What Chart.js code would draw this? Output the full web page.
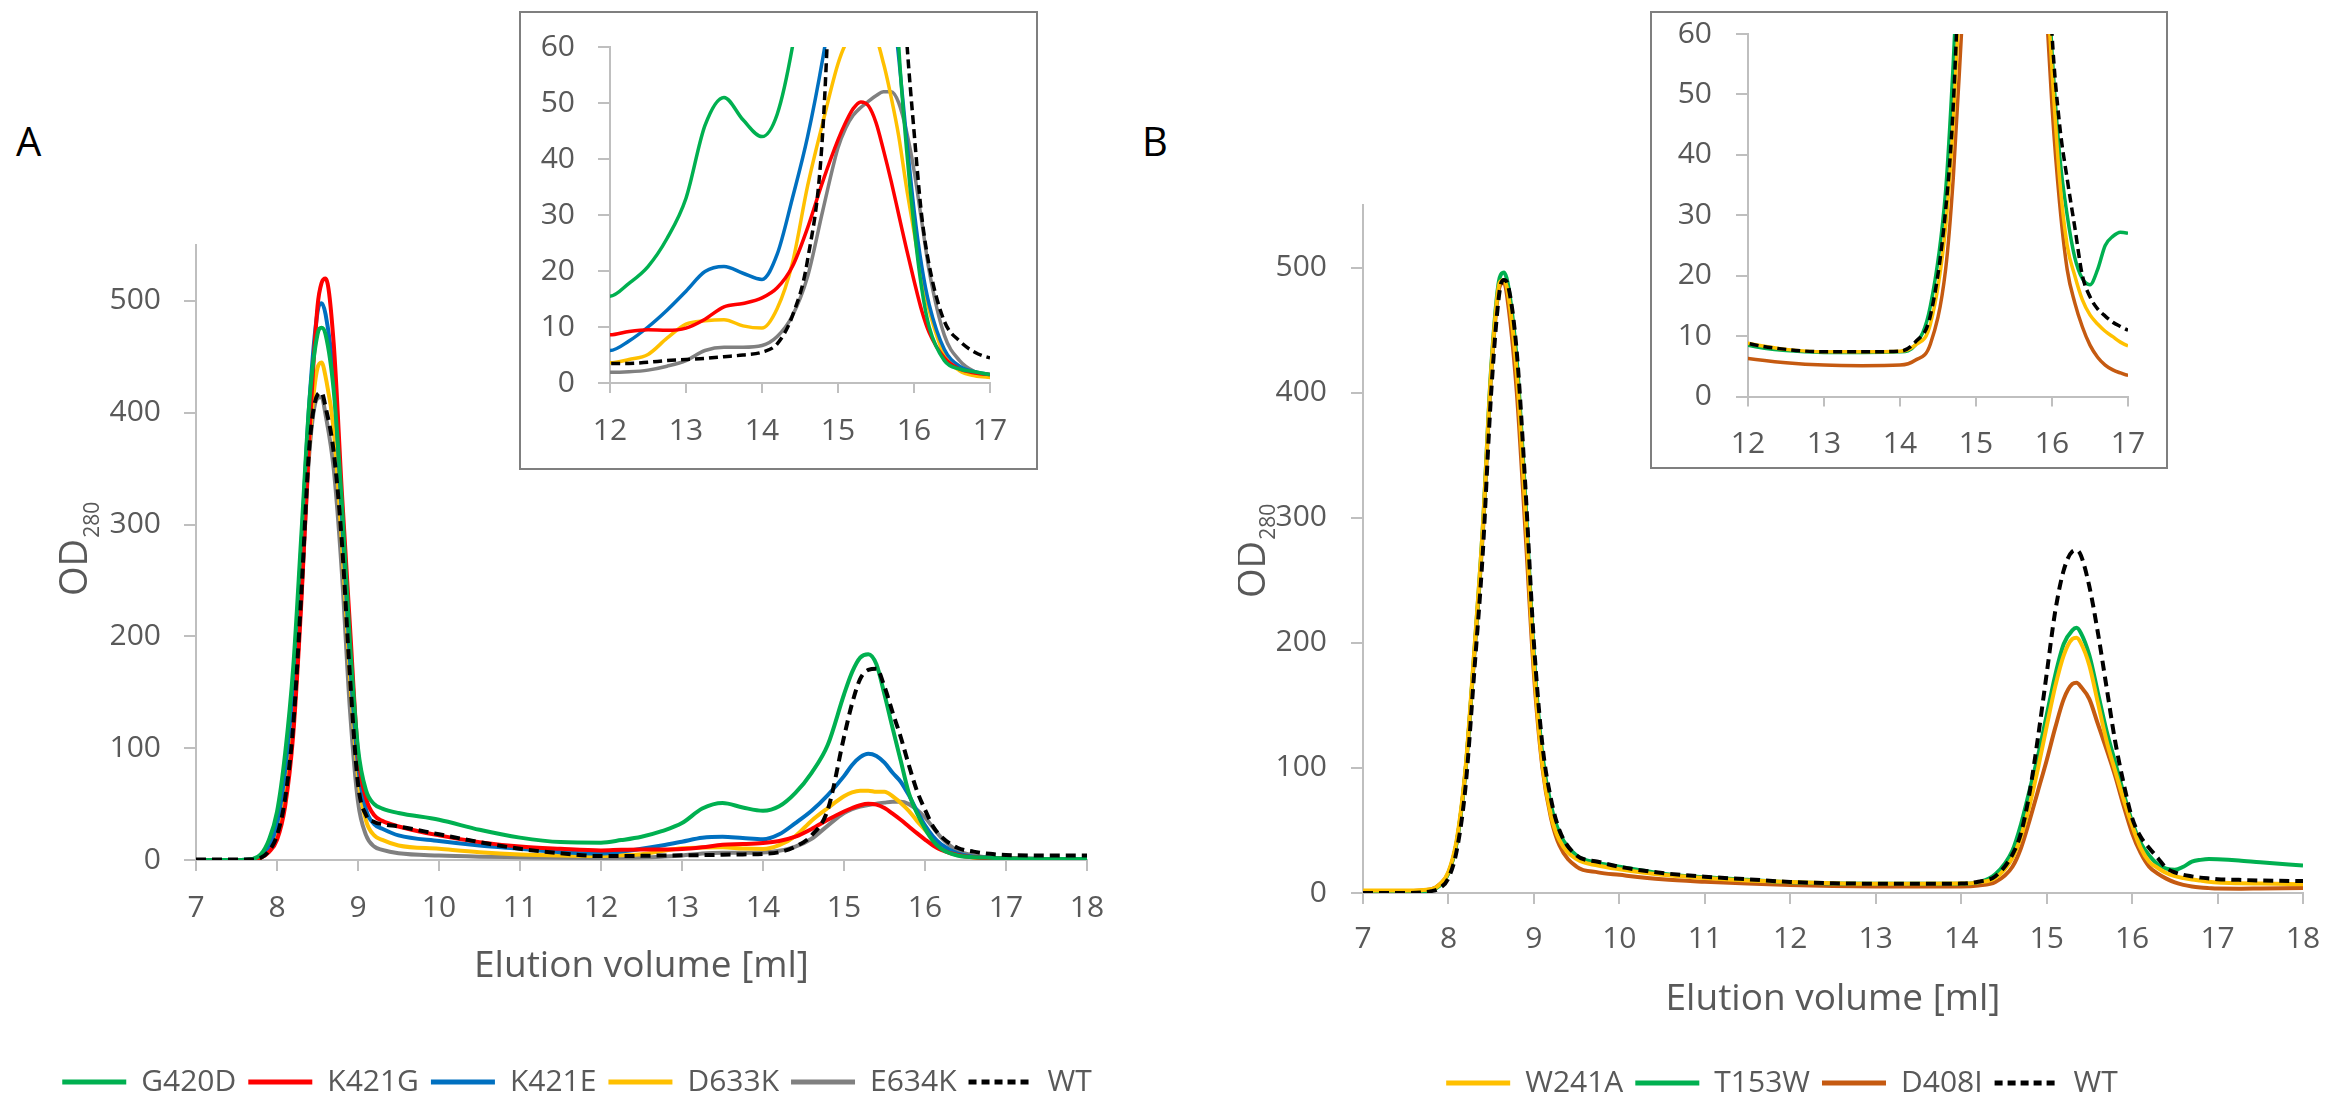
<!DOCTYPE html>
<html>
<head>
<meta charset="utf-8">
<script src="https://cdn.jsdelivr.net/npm/chart.js@4.4.1/dist/chart.umd.min.js"></script>
<style>
  html, body { margin:0; padding:0; background:#fff; width:2326px; height:1100px; overflow:hidden; }
  canvas { position:absolute; }
  .inset { position:absolute; background:#fff; border:2px solid #7f7f7f; box-sizing:border-box; }
  .tag { position:absolute; font:40px "Open Sans"; line-height:40px; color:#000; }
</style>
</head>
<body>
<div class="tag" style="left:16px;top:121px">A</div>
<div class="tag" style="left:1142px;top:121px">B</div>

<canvas id="mainA" width="1154" height="1110" style="left:0;top:0"></canvas>
<canvas id="mainB" width="1088" height="1110" style="left:1238px;top:0"></canvas>

<div class="inset" style="left:519px;top:11px;width:519px;height:459px"></div>
<canvas id="insetA" width="519" height="459" style="left:519px;top:11px"></canvas>
<div class="inset" style="left:1650px;top:11px;width:518px;height:458px"></div>
<canvas id="insetB" width="518" height="458" style="left:1650px;top:11px"></canvas>

<script>
// ---- panel A data (elution volume in ml, OD280) ----
const volA = [7, 7.5, 7.7, 7.8, 7.9, 8.0, 8.1, 8.2, 8.3, 8.4, 8.5, 8.55, 8.6, 8.7, 8.8, 8.9, 9.0, 9.1, 9.2, 9.3,
  9.5, 10, 10.5, 11, 11.5, 12, 12.25, 12.5, 12.75, 13, 13.25, 13.5, 13.75, 14, 14.2, 14.4, 14.6, 14.8, 15, 15.1,
  15.2, 15.3, 15.4, 15.5, 15.6, 15.7, 15.8, 15.9, 16, 16.1, 16.2, 16.4, 16.6, 16.8, 17, 17.5, 18];
const g420d = [0,0,1,5,18,43,95,172,290,410, 470,476,470,420,320,195,100,62,50,46,
  42,36,27,20,16,15.5,17.8,20.8,25.8,33, 46,51,47,44,48,60,78,103,148,168,
  181,184,175,148,118,89,60,42,28,17, 10,4,2.5,2,1.5,1,1];
const k421g = [0,0,0.5,2,7,18,48,112,230,380, 495,516,520,462,330,210,95,55,40,35,
  30,22,16,12,10,8.6,9.2,9.5,9.4,9.8, 11.4,13.6,14.2,15.2,17,20.8,27.7,36,43.4,46.5,
  49,50.2,49.5,46.5,41.5,36,30,24,18.3,13, 9,4.5,2.5,1.8,1.5,1,1];
const k421e = [0,0,1,3,12,32,80,158,280,410, 490,498,488,430,310,180,85,45,32,28,
  22,17,13,10,7,5.8,7.5,10,13,16.4, 19.9,20.8,19.6,18.5,23,33,44,58,75,85,
  92,95,93,87,78,70,58,44,31,21, 14,6,3,2,1.5,1,1];
const d633k = [0,0,0.5,2,9,25,65,140,255,375, 440,445,432,385,285,165,75,35,22,18,
  13,10,7,5,4,3.6,4.2,5.1,8,10.5, 11.1,11.3,10.2,9.8,13.3,21.4,35.2,46.5,57,60.5,
  62,62,61,61,57,51,44,35,27,19, 13,5,2.2,1.3,1,0.5,0.5];
const e634k = [0,0,0.5,2,8,22,55,120,236,365, 413,414,398,350,258,135,52,22,12,9,
  6,4,3,2.5,2,1.9,2,2.3,3,4, 5.8,6.4,6.4,6.7,8.3,12,19,30.8,42,45.5,
  47.8,49.2,50.3,51.3,52,52,50,45,38,29, 20,8.5,4,2,1,0.5,0.5];
const wtA = [0.5,0.5,0.5,2,8,22,55,120,238,370, 416,418,405,365,285,165,68,40,34,32,
  30,23,16,10,6,3.5,3.5,3.7,4,4.2, 4.4,4.7,5,5.5,7,12,22,45,110,140,
  162,170,171,155,132,110,85,62,45,30, 21,11,7.5,5.5,4.5,4,4];

// ---- panel B data ----
const volB = [7, 7.5, 7.8, 7.9, 8.0, 8.1, 8.2, 8.3, 8.4, 8.5, 8.6, 8.65, 8.7, 8.8, 8.9, 9.0, 9.1, 9.2, 9.3, 9.5,
  9.75, 10, 10.5, 11, 11.5, 12, 12.5, 13, 13.5, 14, 14.2, 14.4, 14.6, 14.7, 14.8, 14.9, 15.0, 15.1, 15.2, 15.3,
  15.35, 15.4, 15.5, 15.6, 15.7, 15.8, 15.9, 16.0, 16.1, 16.2, 16.3, 16.4, 16.5, 16.6, 16.7, 16.8, 16.9, 17, 17.25, 17.5, 18];
const w241a = [2,2,3,7,17,44,100,192,290,418, 488,490,478,415,305,182,102,62,42,27,
  22,19,14.5,12,10,8.8,7.8,7.4,7.4,7.5, 8.5,12,28,45,70,100,133,165,190,203,
  204,200,182,152,122,98,75,54,36,25, 20,16,13.5,12,10.8,9.9,9,8.4,7.8,7.5, 7];
const t153w = [0.5,0.5,2.5,6,16,42,98,190,290,420, 492,496,485,425,315,190,110,70,48,30,
  24,21,15.5,12.5,10.5,8.5,7.6,7.3,7.3,7.4, 8.5,15,34,55,82,110,142,174,199,210,
  212,208,190,160,130,105,80,57,40,30, 23,19.5,18.5,21,25,26.5,27.2,27,26,24.5, 22];
const d408i = [1.5,1.5,3,7,16,42,98,188,285,415, 485,488,470,400,290,175,100,60,38,21,
  16.5,14.5,11,9,7.5,6.3,5.6,5.2,5.1,5.2, 6,8.7,21,36,58,82,106,132,155,167,
  168,165,155,135,115,94,70,48,32,21, 15.5,11.5,8.5,6.5,5.2,4.4,3.9,3.5,3.4,3.6, 4];
const wtB = [0,0,1.5,4,12,35,85,175,270,400, 482,490,485,432,325,200,118,75,50,30,
  25,21,16,13,11,8.8,7.8,7.4,7.4,7.5, 9,13.4,30.8,48,80,125,175,225,258,273,
  274,270,245,208,165,122,88,60,45,36, 28,20,16.5,14.5,13.3,12.3,11.6,11,10.5,10, 9.5];

// ---- tick labels ----
const xTicksMain = [7, 8, 9, 10, 11, 12, 13, 14, 15, 16, 17, 18];
const yTicksMain = [0, 100, 200, 300, 400, 500];
const xTicksInset = [12, 13, 14, 15, 16, 17];
const yTicksInset = [0, 10, 20, 30, 40, 50, 60];

const seriesA = [
  { label: 'G420D', data: g420d, color: '#00B050' },
  { label: 'K421G', data: k421g, color: '#FF0000' },
  { label: 'K421E', data: k421e, color: '#0070C0' },
  { label: 'D633K', data: d633k, color: '#FFC000' },
  { label: 'E634K', data: e634k, color: '#808080' },
  { label: 'WT', data: wtA, color: '#000000', dash: true }
];
const seriesB = [
  { label: 'W241A', data: w241a, color: '#FFC000' },
  { label: 'T153W', data: t153w, color: '#00B050' },
  { label: 'D408I', data: d408i, color: '#C55A11' },
  { label: 'WT', data: wtB, color: '#000000', dash: true }
];

const txt = '#595959';
const axisCol = '#bfbfbf';

// OD280 axis title with subscript
const odTitle = {
  id: 'odTitle',
  afterDraw(chart, args, o) {
    if (!o || !o.show) return;
    const ctx = chart.ctx;
    ctx.save();
    ctx.translate(o.x, o.y);
    ctx.rotate(-Math.PI / 2);
    ctx.fillStyle = txt;
    ctx.textAlign = 'left';
    ctx.textBaseline = 'alphabetic';
    ctx.font = '38px "Open Sans"';
    ctx.fillText('OD', 0, 0);
    const w = ctx.measureText('OD').width;
    ctx.font = '21px "Open Sans"';
    ctx.fillText('280', w + 1, o.sub);
    ctx.restore();
  }
};
Chart.register(odTitle);

function makeSets(vols, series, lw, dash) {
  return series.map(s => ({
    label: s.label,
    data: vols.map((v, i) => ({ x: v, y: s.data[i] })),
    borderColor: s.color,
    backgroundColor: s.color,
    borderWidth: lw,
    borderDash: s.dash ? dash : [],
    pointRadius: 0,
    fill: false,
    cubicInterpolationMode: 'monotone',
    borderJoinStyle: 'round',
    order: s.dash ? 0 : 1
  }));
}

function build(id, cfg) {
  const legendOpts = cfg.legend ? {
    display: true,
    position: 'bottom',
    labels: {
      usePointStyle: true,
      pointStyleWidth: 64,
      padding: 12,
      color: txt,
      font: { family: 'Open Sans', size: 30 },
      sort: (a, b) => a.datasetIndex - b.datasetIndex,
      generateLabels: chart => Chart.defaults.plugins.legend.labels.generateLabels(chart).map(it => {
        const ds = chart.data.datasets[it.datasetIndex];
        it.pointStyle = 'line';
        it.lineWidth = 5;
        it.lineDash = ds.borderDash && ds.borderDash.length ? [8, 5] : [];
        it.strokeStyle = ds.borderColor;
        return it;
      })
    }
  } : { display: false };

  return new Chart(document.getElementById(id), {
    type: 'line',
    data: { datasets: makeSets(cfg.vols, cfg.series, cfg.lw, cfg.dash) },
    options: {
      responsive: false,
      animation: false,
      events: [],
      layout: { padding: cfg.pad },
      scales: {
        x: {
          type: 'linear',
          min: cfg.xMin, max: cfg.xMax,
          afterBuildTicks: s => { s.ticks = cfg.xTicks.map(v => ({ value: v })); },
          afterFit: s => { s.height = cfg.xH; s.paddingLeft = 0; s.paddingRight = cfg.xRight || 0; },
          grid: { display: true, drawOnChartArea: false, drawTicks: true, tickLength: cfg.xTl, color: axisCol, lineWidth: 2 },
          border: { display: true, color: axisCol, width: 2 },
          ticks: { color: txt, font: { family: 'Open Sans', size: 30 }, padding: cfg.xPad, maxRotation: 0, autoSkip: false },
          title: cfg.xTitle ? {
            display: true, text: 'Elution volume [ml]', color: txt,
            font: { family: 'Open Sans', size: 37 }, padding: { top: 0, bottom: cfg.titlePad }
          } : { display: false }
        },
        y: {
          type: 'linear',
          min: 0, max: cfg.yMax,
          afterBuildTicks: s => { s.ticks = cfg.yTicks.map(v => ({ value: v })); },
          afterFit: s => { s.width = cfg.yW; s.paddingTop = 0; s.paddingBottom = 0; },
          grid: { display: true, drawOnChartArea: false, drawTicks: true, tickLength: 12, color: axisCol, lineWidth: 2 },
          border: { display: true, color: axisCol, width: 2 },
          ticks: { color: txt, font: { family: 'Open Sans', size: 30 }, padding: cfg.yPad }
        }
      },
      plugins: {
        legend: legendOpts,
        tooltip: { enabled: false },
        odTitle: cfg.od || { show: false }
      }
    }
  });
}

// panel A
build('mainA', {
  vols: volA, series: seriesA, lw: 4, dash: [10, 6], legend: true,
  pad: { left: 0, right: 0, top: 245, bottom: 3 },
  xMin: 7, xMax: 18, xTicks: xTicksMain, xH: 195, xTl: 11, xPad: 19, xTitle: true, titlePad: 66.8, xRight: 67,
  yMax: 550, yTicks: yTicksMain, yW: 196, yPad: 23,
  od: { show: true, x: 87, y: 596, sub: 12 }
});
build('insetA', {
  vols: volA, series: seriesA, lw: 3.5, dash: [9, 5], legend: false,
  pad: { left: 0, right: 48, top: 36, bottom: 0 },
  xMin: 12, xMax: 17, xTicks: xTicksInset, xH: 87, xTl: 10, xPad: 20, xTitle: false,
  yMax: 60, yTicks: yTicksInset, yW: 91, yPad: 23
});

// panel B
build('mainB', {
  vols: volB, series: seriesB, lw: 4, dash: [10, 6], legend: true,
  pad: { left: 0, right: 0, top: 205, bottom: 2 },
  xMin: 7, xMax: 18, xTicks: xTicksMain, xH: 163, xTl: 11, xPad: 17, xTitle: true, titlePad: 34.8, xRight: 23,
  yMax: 550, yTicks: yTicksMain, yW: 125, yPad: 24,
  od: { show: true, x: 27, y: 598, sub: 10 }
});
build('insetB', {
  vols: volB, series: seriesB, lw: 3.5, dash: [9, 5], legend: false,
  pad: { left: 0, right: 40, top: 23, bottom: 0 },
  xMin: 12, xMax: 17, xTicks: xTicksInset, xH: 72.5, xTl: 10, xPad: 19.5, xTitle: false,
  yMax: 60, yTicks: yTicksInset, yW: 98, yPad: 24
});
</script>
</body>
</html>
